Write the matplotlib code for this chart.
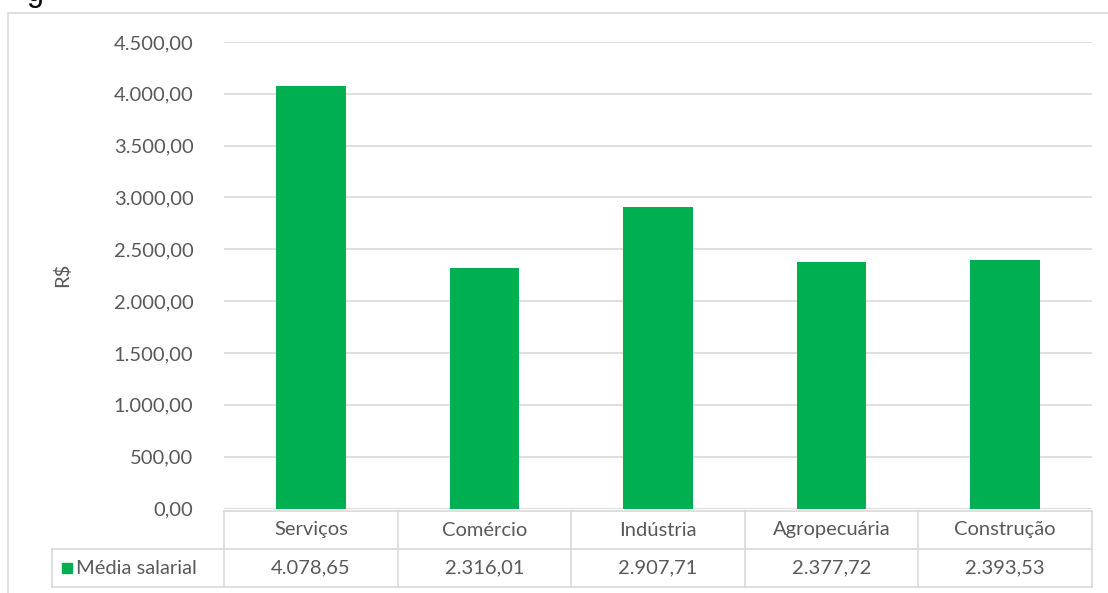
import matplotlib
matplotlib.use("Agg")
import matplotlib.pyplot as plt
from matplotlib.patches import Rectangle
from matplotlib.transforms import blended_transform_factory
from matplotlib.ticker import FuncFormatter

plt.rcParams["font.family"] = ["Lato", "DejaVu Sans"]

categories = ["Serviços", "Comércio", "Indústria", "Agropecuária", "Construção"]
salaries = [4078.65, 2316.01, 2907.71, 2377.72, 2393.53]
series_name = "Média salarial"
y_ticks = [0, 500, 1000, 1500, 2000, 2500, 3000, 3500, 4000, 4500]

GREEN = "#00B050"
TEXT = "#595959"
GRID = "#d9d9d9"
W, H = 1108, 593


def br_number(value):
    s = f"{value:,.2f}"
    return s.replace(",", "X").replace(".", ",").replace("X", ".")


def fx(px):
    return px / W


def fy(py):
    return (H - py) / H


fig = plt.figure(figsize=(W / 100, H / 100), dpi=100)

# chart frame (cut off on the right and bottom) and stray caption descender
fig.patches.append(Rectangle((fx(8), fy(640)), fx(1200), fy(13) - fy(640),
                             transform=fig.transFigure, fill=False,
                             edgecolor=GRID, linewidth=1.2))
fig.text(fx(27), fy(1), "g", fontsize=22, color="black", va="baseline",
         family=["Liberation Sans", "DejaVu Sans"])

ax = fig.add_axes([fx(224), fy(508.5), fx(1092) - fx(224), fy(42) - fy(508.5)])
x = list(range(len(categories)))
ax.bar(x, salaries, width=0.4, color=GREEN, zorder=3)
ax.set_xlim(-0.5, len(categories) - 0.5)
ax.set_ylim(0, 4500)
ax.set_yticks(y_ticks)
ax.yaxis.set_major_formatter(FuncFormatter(lambda v, _: br_number(v)))
ax.tick_params(axis="y", length=0, pad=22, labelsize=14.5, labelcolor=TEXT)
ax.set_xticks([])
ax.grid(axis="y", color=GRID, linewidth=1.2, zorder=0)
for side in ax.spines.values():
    side.set_visible(False)
ax.set_facecolor("none")
fig.text(fx(62), fy(275), "R$", rotation=90, ha="center", va="center",
         fontsize=14.5, color=TEXT)

# data table under the plot
tr = blended_transform_factory(ax.transData, fig.transFigure)
row_top, row_mid, row_bot = fy(511), fy(549), fy(587)
x0, x1 = -0.5, len(categories) - 0.5
left_col = -0.5 + (52 - 224) / ((1092 - 224) / len(categories))
line_kw = dict(color=GRID, linewidth=1.2, transform=tr, clip_on=False)
ax.plot([x0, x1], [row_top, row_top], **line_kw)
ax.plot([left_col, x1], [row_mid, row_mid], **line_kw)
ax.plot([left_col, x1], [row_bot, row_bot], **line_kw)
ax.plot([left_col, left_col], [row_mid, row_bot], **line_kw)
for k in range(len(categories) + 1):
    ax.plot([k - 0.5, k - 0.5], [row_top, row_bot], **line_kw)

for i, (cat, val) in enumerate(zip(categories, salaries)):
    ax.text(i, (row_top + row_mid) / 2, cat, ha="center", va="center",
            fontsize=14.5, color=TEXT, transform=tr)
    ax.text(i, (row_mid + row_bot) / 2, br_number(val), ha="center", va="center",
            fontsize=14.5, color=TEXT, transform=tr)

fig.patches.append(Rectangle((fx(62), fy(573)), fx(10), fy(563) - fy(573),
                             transform=fig.transFigure, color=GREEN))
fig.text(fx(76), (row_mid + row_bot) / 2, series_name, ha="left", va="center",
         fontsize=14.5, color=TEXT)

fig.savefig("out.png", dpi=100)
